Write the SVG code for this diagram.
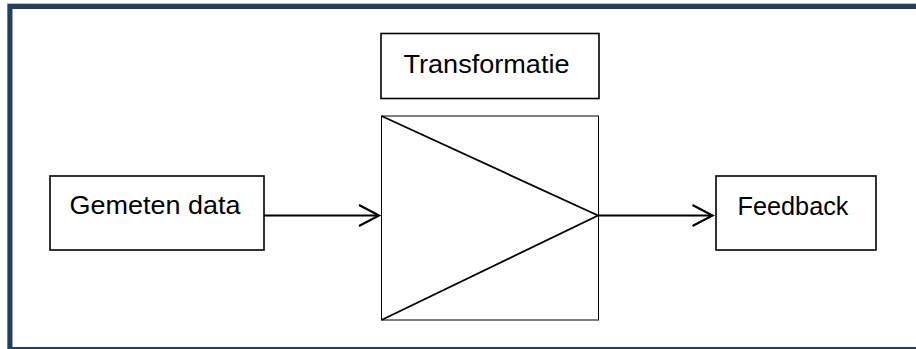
<svg xmlns="http://www.w3.org/2000/svg" width="916" height="349" viewBox="0 0 916 349">
  <defs>
    <style>
      .box { fill: #ffffff; stroke: #000000; stroke-width: 1.6; }
      .thin { fill: #ffffff; stroke: #000000; stroke-width: 1; }
      .lbl { font-family: "Liberation Sans", Arial, sans-serif; font-size: 26px; fill: #000000; }
      .conn { stroke: #000000; stroke-width: 2; fill: none; }
      .tri { stroke: #000000; stroke-width: 1.8; fill: none; }
    </style>
    <marker id="chev" markerUnits="userSpaceOnUse" markerWidth="24" markerHeight="26" refX="21" refY="12" orient="auto">
      <path d="M1,1.5 L21,12 L1,22.5" fill="none" stroke="#000000" stroke-width="2.2"/>
    </marker>
  </defs>
  <rect x="0" y="0" width="916" height="349" fill="#ffffff"/>
  <g id="frame">
    <rect x="7.5" y="3.5" width="930" height="360" fill="none" stroke="#b8c4d4" stroke-width="1"/>
    <rect x="10" y="6.5" width="930" height="343" fill="none" stroke="#243f60" stroke-width="5"/>
  </g>
  <g id="gemeten">
    <rect class="box" x="50" y="176" width="214" height="74"/>
    <text class="lbl" x="69.5" y="214" textLength="171" lengthAdjust="spacingAndGlyphs">Gemeten data</text>
  </g>
  <g id="transformatie">
    <rect class="box" x="381" y="33.5" width="218" height="65"/>
    <text class="lbl" x="403.5" y="72.5" textLength="166" lengthAdjust="spacingAndGlyphs">Transformatie</text>
  </g>
  <g id="versterker">
    <rect class="thin" x="381.5" y="116" width="217" height="204"/>
    <path class="tri" d="M381.5,116 L598,215.5 L381.5,320"/>
  </g>
  <g id="feedback">
    <rect class="box" x="716" y="176" width="160" height="74"/>
    <text class="lbl" x="737.5" y="215" textLength="111" lengthAdjust="spacingAndGlyphs">Feedback</text>
  </g>
  <g id="connectors">
    <line class="conn" x1="264" y1="215.5" x2="379" y2="215.5" marker-end="url(#chev)"/>
    <line class="conn" x1="598" y1="215.5" x2="712.5" y2="215.5" marker-end="url(#chev)"/>
  </g>
</svg>
